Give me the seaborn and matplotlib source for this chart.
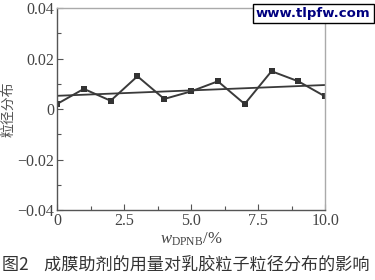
import matplotlib
matplotlib.use("Agg")
import matplotlib.pyplot as plt
import seaborn as sns
import pandas as pd
import numpy as np
from matplotlib import font_manager as fm
from matplotlib.ticker import MultipleLocator

sns.set_theme(style="ticks")

names = {f.name for f in fm.fontManager.ttflist}
serif_name = 'DejaVu Serif'
for cand in ['Liberation Serif', 'Times New Roman', 'Nimbus Roman', 'Tinos', 'Noto Serif']:
    if cand in names:
        serif_name = cand
        break

plt.rcParams['font.family'] = [serif_name, 'DejaVu Serif']
plt.rcParams['font.stretch'] = 'condensed'
plt.rcParams['mathtext.fontset'] = 'custom'
plt.rcParams['mathtext.it'] = serif_name + ':italic'
plt.rcParams['mathtext.rm'] = serif_name

w_dpnb = [0, 1, 2, 3, 4, 5, 6, 7, 8, 9, 10]
psd = [0.002, 0.008, 0.0033, 0.013, 0.004, 0.007, 0.011, 0.002, 0.015, 0.011, 0.005]
x_ticks = [0, 2.5, 5.0, 7.5, 10.0]
x_tick_labels = ["0", "2.5", "5.0", "7.5", "10.0"]
y_ticks = [-0.04, -0.02, 0, 0.02, 0.04]
y_tick_labels = ["\u22120.04", "\u22120.02", "0", "0.02", "0.04"]

df = pd.DataFrame({"w": w_dpnb, "psd": psd})

fig = plt.figure(figsize=(3.75, 2.8), dpi=100)
ax = fig.add_axes([0.152, 0.25, 0.715, 0.721])

line_color = "#3a3a3a"
sns.lineplot(data=df, x="w", y="psd", ax=ax, color=line_color, lw=1.4,
             marker="s", markersize=5, markeredgewidth=0, markerfacecolor="#333333")
sns.regplot(data=df, x="w", y="psd", ax=ax, scatter=False, ci=None,
            line_kws=dict(color=line_color, lw=1.3))

ax.set_xlim(0, 10)
ax.set_ylim(-0.04, 0.04)
ax.set_xticks(x_ticks)
ax.set_xticklabels(x_tick_labels)
ax.set_yticks(y_ticks)
ax.set_yticklabels(y_tick_labels)
ax.xaxis.set_minor_locator(MultipleLocator(1.25))
ax.yaxis.set_minor_locator(MultipleLocator(0.01))
ax.tick_params(which="both", direction="in", color="#555555", labelsize=11.5,
               labelcolor="#444444", pad=2)
ax.tick_params(which="major", length=4, width=0.8)
ax.tick_params(which="minor", length=3, width=0.8)

for s in ["left", "bottom"]:
    ax.spines[s].set_color("#555555")
    ax.spines[s].set_linewidth(1.0)
for s in ["top", "right"]:
    ax.spines[s].set_color("#aaaaaa")
    ax.spines[s].set_linewidth(1.0)

ax.set_xlabel(r"$w_{\mathrm{DPNB}}$/%", fontsize=12, color="#444444", labelpad=1)
ax.set_ylabel("粒径分布", fontsize=10, color="#555555",
              family=['Noto Sans CJK SC', 'DejaVu Sans'])
ax.yaxis.set_label_coords(-0.155, 0.5)

fig.text(0.005, 0.05, "图2    成膜助剂的用量对乳胶粒子粒径分布的影响", fontsize=12.3,
         color="#333333", family=['Noto Sans CJK SC', 'DejaVu Sans'], va="center",
         stretch='normal')

fig.text(0.988, 0.952, "www.tlpfw.com", fontsize=9.5, fontweight="bold",
         color="#000080", family=['DejaVu Sans'], ha="right", va="center",
         stretch='normal',
         bbox=dict(boxstyle="square,pad=0.25", fc="white", ec="black", lw=1.0))

fig.savefig("out.png", dpi=100)
